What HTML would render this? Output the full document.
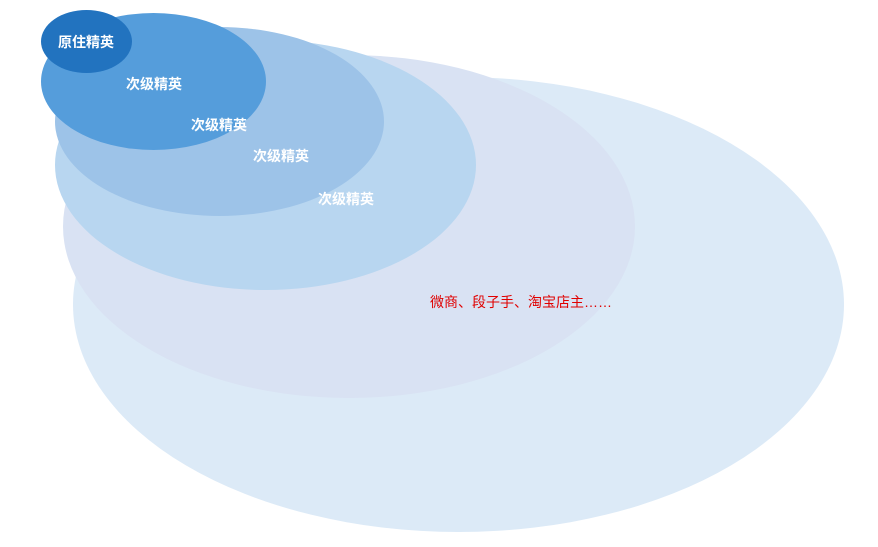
<!DOCTYPE html>
<html><head><meta charset="utf-8"><style>html,body{margin:0;padding:0;background:#fff}svg{display:block}</style></head>
<body>
<svg width="878" height="547" viewBox="0 0 878 547" xmlns="http://www.w3.org/2000/svg" font-family="Liberation Sans, Noto Sans CJK SC, sans-serif">
<ellipse cx="458.5" cy="304.5" rx="385.5" ry="227.5" fill="#dceaf7"/>
<ellipse cx="349" cy="226.5" rx="286" ry="171.5" fill="#d9e2f3"/>
<ellipse cx="265.5" cy="165" rx="210.5" ry="125" fill="#b8d6f0"/>
<ellipse cx="219.5" cy="121.5" rx="164.5" ry="94.5" fill="#9dc3e8"/>
<ellipse cx="153.5" cy="81.5" rx="112.5" ry="68.5" fill="#559ddb"/>
<ellipse cx="86.5" cy="41.5" rx="45.5" ry="31.5" fill="#2273bf"/>
<g fill="#fff" font-size="14" font-weight="bold" text-anchor="middle">
<text x="86" y="47">原住精英</text>
<text x="154" y="89">次级精英</text>
<text x="219" y="130">次级精英</text>
<text x="281" y="161">次级精英</text>
<text x="346" y="204">次级精英</text>
</g>
<text x="430" y="307" font-size="14" fill="#e00000">微商、段子手、淘宝店主……</text>
</svg>
</body></html>
